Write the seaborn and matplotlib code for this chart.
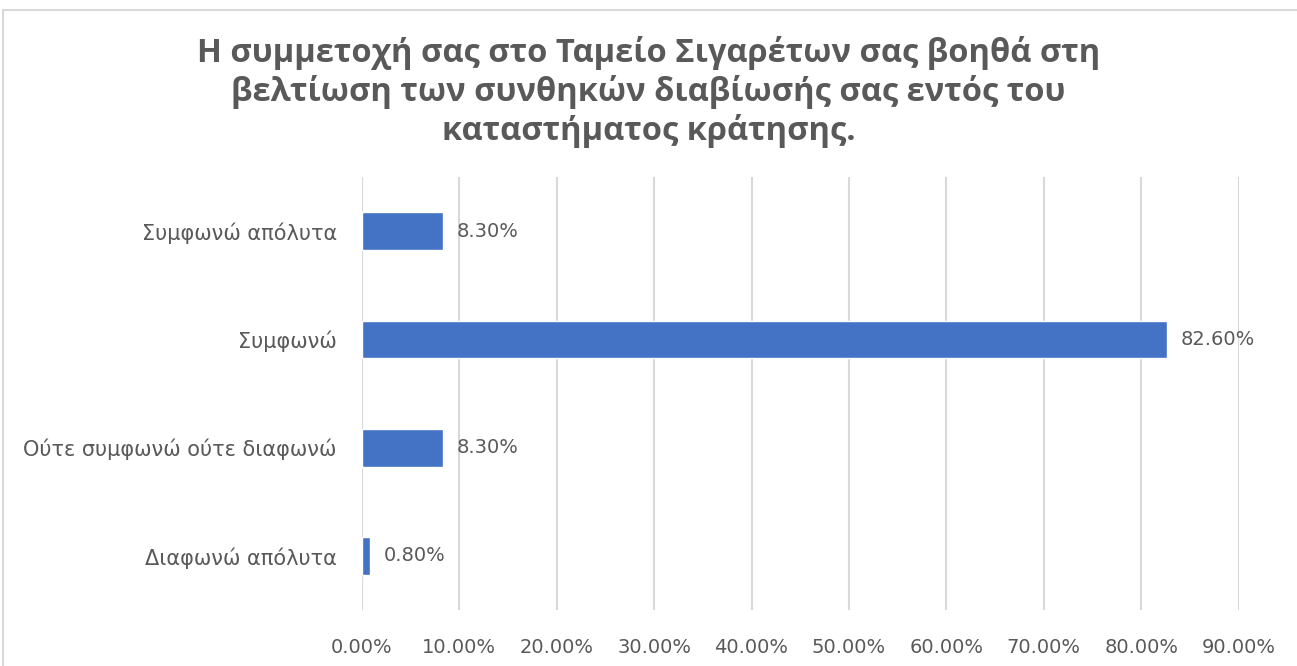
import matplotlib
matplotlib.use('Agg')
import matplotlib.pyplot as plt
import seaborn as sns
import pandas as pd
from matplotlib.patches import Rectangle
from matplotlib.ticker import FuncFormatter

# Datos
categorias = ['Συμφωνώ απόλυτα', 'Συμφωνώ', 'Ούτε συμφωνώ ούτε διαφωνώ', 'Διαφωνώ απόλυτα']
valores = [8.30, 82.60, 8.30, 0.80]
titulo = ('Η συμμετοχή σας στο Ταμείο Σιγαρέτων σας βοηθά στη\n'
          'βελτίωση των συνθηκών διαβίωσής σας εντός του\n'
          'καταστήματος κράτησης.')

df = pd.DataFrame({'categoria': categorias, 'valor': valores})

sns.set_theme(style='white')
plt.rcParams['font.family'] = ['DejaVu Sans']

gris = '#595959'
fig = plt.figure(figsize=(12.97, 6.66), dpi=100)
ax = fig.add_axes([0.279, 0.084, 0.676, 0.65])

sns.barplot(data=df, x='valor', y='categoria', orient='h', color='#4472C4',
            width=0.35, saturation=1, ax=ax)

ax.set_xlim(0, 90)
ax.set_xticks(range(0, 91, 10))
ax.xaxis.set_major_formatter(FuncFormatter(lambda v, p: f'{v:.2f}%'))
ax.grid(axis='x', color='#D9D9D9', linewidth=1.5)
ax.set_axisbelow(True)
for s in ax.spines.values():
    s.set_visible(False)
ax.tick_params(axis='x', colors=gris, labelsize=14, length=0, pad=20)
ax.tick_params(axis='y', colors=gris, labelsize=15, length=0, pad=18)
ax.set_xlabel('')
ax.set_ylabel('')

for i, v in enumerate(valores):
    ax.text(v + 1.4, i, f'{v:.2f}%', va='center', ha='left', fontsize=14, color=gris)

fig.text(0.5, 0.862, titulo, ha='center', va='center', fontsize=23.5, fontweight='bold',
         color=gris, linespacing=1.2, family=['Open Sans', 'DejaVu Sans'])

# Marco del gráfico
fig.patches.append(Rectangle((3 / 1297, -0.05), 1.1, 1 - 10 / 666 + 0.05,
                             transform=fig.transFigure, fill=False,
                             edgecolor='#D9D9D9', linewidth=1.5))

plt.savefig('out.png', dpi=100)
plt.close()
